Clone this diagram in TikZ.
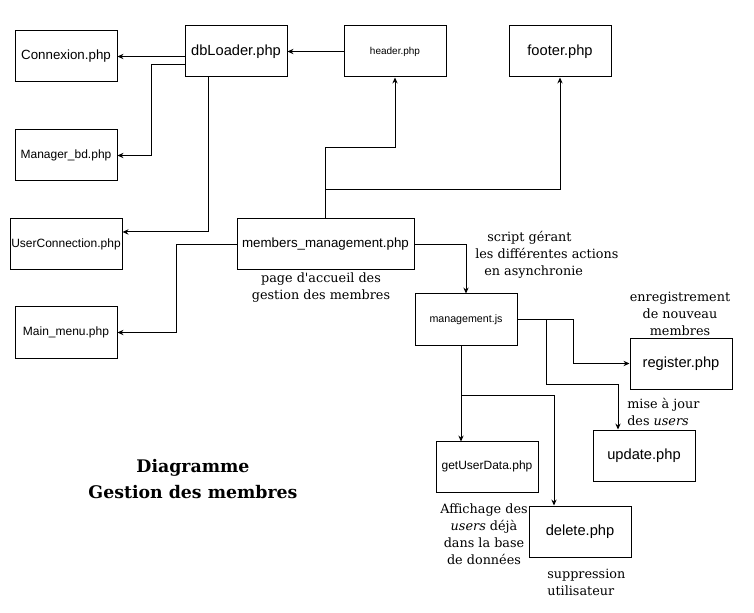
\documentclass[tikz,border=0pt]{standalone}
\usepackage{fontspec}
\setmainfont{DejaVu Serif}
\setsansfont{Liberation Sans}
\usetikzlibrary{arrows.meta}
\tikzset{file/.style = {draw=black, line width=0.75pt, font=\sffamily\fontsize{#1}{#1}\selectfont,
                        minimum width=76.5pt, minimum height=38.25pt, inner sep=0pt},
         file/.default = 11,
         link/.style = {-{Stealth[length=4.5pt,width=4pt]}, line width=0.75pt},
         note/.style = {font=\fontsize{9.6}{12.75}\selectfont, inner sep=0pt}}

\begin{document}
\begin{tikzpicture}[x=0.75pt, y=-0.75pt]
            \useasboundingbox (0, 0) rectangle (754, 613);

            \node [file=10] (connexion) at (66, 56.5) {Connexion.php};
            \node [file] (dbloader) at (236, 51.5) {dbLoader.php};
            \node [file=7.5] (header) at (395, 51.5) {header.php};
            \node [file] (footer) at (560, 51.5) {footer.php};
            \node [file=9] (managerbd) at (66, 155.5) {Manager\_bd.php};
            \node [file=9, minimum width=84pt] (userconn) at (66, 244.5) {UserConnection.php};
            \node [file=10, minimum width=132.75pt] (members) at (325.5, 244.5) {members\_management.php};
            \node [file=9] (mainmenu) at (66, 332.5) {Main\_menu.php};

            \node [file=8] (management) at (466, 319.5) {management.js};
            \node [file] (register) at (681, 363.5) {register.php};
            \node [file] (update) at (644, 455.5) {update.php};
            \node [file=9] (getuser) at (487, 466.5) {getUserData.php};
            \node [file] (delete) at (580, 531.5) {delete.php};

            \draw [link] (header.west) -- (dbloader.east);
            \draw [link] (dbloader.west |- connexion.east) -- (connexion.east);
            \draw [link] ([yshift=-10pt]dbloader.west) -- ++(-33, 0) |- (managerbd.east);
            \draw [link] ([xshift=-21pt]dbloader.south) |- ([yshift=9.4pt]userconn.east);

            \draw [link] (members.north) -- ++(0, -71) -| (header.south);
            \draw [link] (members.north) ++(0, -29) -| (footer.south);
            \draw [link] (members.west) -- ++(-60, 0) |- (mainmenu.east);
            \draw [link] (members.east) -| (management.north);

            \draw [link] (management.east) -- ++(56, 0) |- (register.west);
            \draw [link] (management.east) ++(29, 0) -- ++(0, 65) -| ([xshift=-19.5pt]update.north);
            \draw [link] ([xshift=-3.75pt]management.south) -- ++(0, 96);
            \draw [link] ([xshift=-3.75pt]management.south) ++(0, 49.5) -| ([xshift=-19.5pt]delete.north);

            \node [note, align=center] (accueil) at (321, 288) {page d\textquotesingle accueil des\\gestion des membres};
            \node [note, align=left, anchor=west] (script) at (475, 255)
                {\hspace*{9pt}script gérant\\les différentes actions\\\hspace*{6.75pt}en asynchronie};
            \node [note, align=center] (enreg) at (680, 314) {enregistrement\\de nouveau\\membres};
            \node [note, align=left, anchor=west] (misejour) at (627, 411.5) {mise à jour\\des \textit{users}};
            \node [note, align=center] (affichage) at (484, 534.5)
                {Affichage des\\\textit{users} déjà\\dans la base\\de données};
            \node [note, align=left, anchor=west] (suppr) at (547, 582) {suppression\\utilisateur};

            \node [align=center, inner sep=0pt, font=\bfseries\fontsize{13}{19.5}\selectfont] (title)
                at (193, 479) {Diagramme\\Gestion des membres};
        \end{tikzpicture}
\end{document}
